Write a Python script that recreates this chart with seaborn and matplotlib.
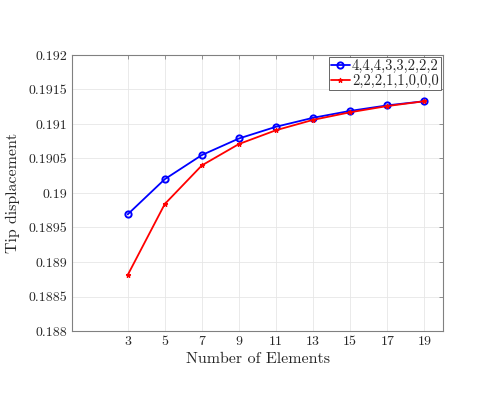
"""Tip displacement vs number of elements."""
import numpy as np
import pandas as pd
import seaborn as sns
import matplotlib.pyplot as plt

n_elements = [3, 5, 7, 9, 11, 13, 15, 17, 19]
tip_a = [0.18969, 0.19020, 0.19055, 0.19079, 0.19096, 0.19109, 0.19119, 0.19127, 0.19133]
tip_b = [0.18881, 0.18984, 0.19040, 0.19071, 0.19091, 0.19106, 0.19117, 0.19126, 0.19133]
labels = ['4,4,4,3,3,2,2,2', '2,2,2,1,1,0,0,0']
y_ticks = [0.188, 0.1885, 0.189, 0.1895, 0.19, 0.1905, 0.191, 0.1915, 0.192]
y_ticklabels = ['0.188', '0.1885', '0.189', '0.1895', '0.19', '0.1905', '0.191', '0.1915', '0.192']

df = pd.DataFrame({
    'n': n_elements * 2,
    'tip': tip_a + tip_b,
    'case': [labels[0]] * len(n_elements) + [labels[1]] * len(n_elements),
})

sns.set_style('white')
plt.rcParams['font.family'] = 'serif'
plt.rcParams['font.serif'] = ['cmr10', 'DejaVu Serif']
plt.rcParams['mathtext.fontset'] = 'cm'
plt.rcParams['axes.formatter.use_mathtext'] = True

fig = plt.figure(figsize=(4.98, 3.99), dpi=100)
ax = fig.add_axes([0.1446, 0.1704, 0.745, 0.6918])

sns.lineplot(data=df, x='n', y='tip', hue='case', style='case',
             palette={labels[0]: '#0000ff', labels[1]: '#ff0000'},
             markers={labels[0]: 'o', labels[1]: '*'}, dashes=False,
             linewidth=1.3, ax=ax, legend=False)
# tweak markers to look like matlab defaults
lines = ax.get_lines()
lines[0].set_markerfacecolor('none')
lines[0].set_markeredgecolor('#0000ff')
lines[0].set_markersize(4.5)
lines[0].set_markeredgewidth(1.4)
lines[1].set_markersize(3.5)
lines[1].set_markeredgecolor('#ff0000')
lines[1].set_markeredgewidth(0.8)

ax.set_xlim(0, 20)
ax.set_ylim(0.188, 0.192)
ax.set_xticks(n_elements)
ax.set_xticklabels([str(v) for v in n_elements])
ax.set_yticks(y_ticks)
ax.set_yticklabels(y_ticklabels)
ax.tick_params(direction='in', length=3, width=0.6, labelsize=10,
               top=True, right=True, labelcolor='#262626')
ax.tick_params(axis='both', which='major', color='#808080')
ax.grid(True, color='#e6e6e6', linewidth=0.6)
for sp in ax.spines.values():
    sp.set_color('#808080')
    sp.set_linewidth(0.8)
ax.set_xlabel('Number of Elements', fontsize=11.5, color='#262626', labelpad=3)
ax.set_ylabel('Tip displacement', fontsize=11.5, color='#262626', labelpad=6)

ax.legend(lines, labels, loc='upper right', fontsize=10.5, frameon=True, fancybox=False,
          edgecolor='#4d4d4d', framealpha=1, borderpad=0.15, handlelength=1.3,
          handletextpad=0.15, labelspacing=0.05, borderaxespad=0.15)
ax.get_legend().get_frame().set_linewidth(0.6)

fig.savefig('out.png', dpi=100)
